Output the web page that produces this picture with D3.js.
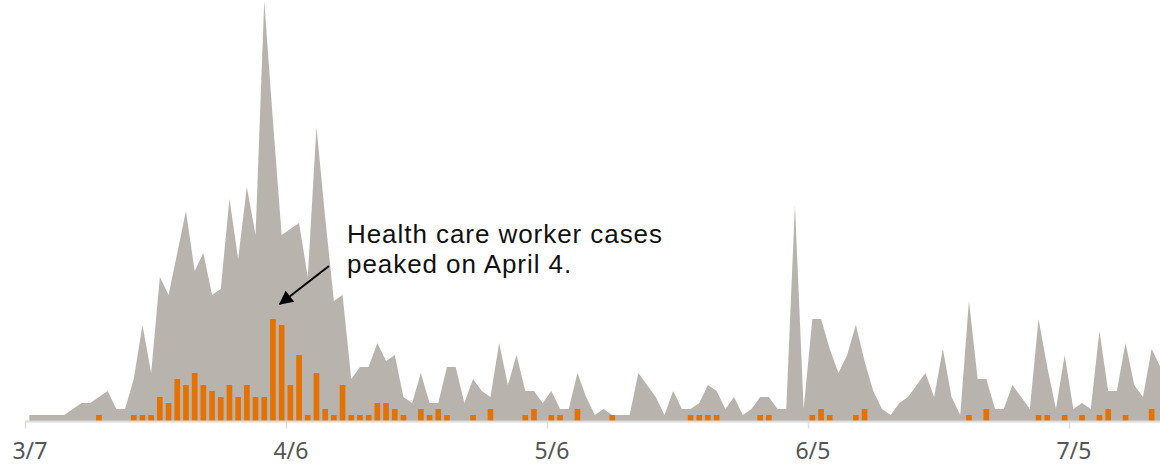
<!DOCTYPE html>
<html>
<head>
<meta charset="utf-8">
<script src="https://cdn.jsdelivr.net/npm/d3@7"></script>
<style>
  body { margin: 0; background: #fff; }
  svg { display: block; font-family: "Noto Sans", Roboto, sans-serif; }
</style>
</head>
<body>
<div class="container"></div>
<script>
const w = 1160;
const h = 466;

// daily counts, starting 3/7
const startDay = "2020-03-07";
const totalCases = [
  1, 1, 1, 1, 1, 2, 3, 3, 4, 5,
  2, 2, 7, 16, 8, 24, 21, 28, 35, 25,
  28, 21, 22, 37, 27, 39, 31, 70, 50, 31,
  32, 33, 24, 49, 34, 20, 21, 7, 9, 9,
  13, 10, 11, 4, 3, 8, 3, 3, 9, 9,
  3, 7, 5, 4, 13, 6, 11, 5, 5, 3,
  5, 2, 2, 8, 4, 1, 2, 1, 1, 1,
  8, 6, 4, 1, 5, 2, 2, 3, 6, 5,
  2, 4, 1, 2, 4, 4, 2, 2, 36, 2,
  17, 17, 12, 8, 11, 16, 10, 5, 2, 1,
  3, 4, 6, 8, 4, 12, 4, 1, 20, 7,
  7, 2, 2, 6, 4, 2, 17, 9, 2, 11,
  2, 3, 2, 15, 5, 5, 13, 6, 4, 12,
  9
];
const workerCases = [
  0, 0, 0, 0, 0, 0, 0, 0, 1, 0,
  0, 0, 1, 1, 1, 4, 3, 7, 6, 8,
  6, 5, 4, 6, 4, 6, 4, 4, 17, 16,
  6, 11, 1, 8, 2, 1, 6, 1, 1, 1,
  3, 3, 2, 1, 0, 2, 1, 2, 1, 0,
  0, 1, 0, 2, 0, 0, 0, 1, 2, 0,
  1, 1, 0, 2, 0, 0, 0, 1, 0, 0,
  0, 0, 0, 0, 0, 0, 1, 1, 1, 1,
  0, 0, 0, 0, 1, 1, 0, 0, 0, 0,
  1, 2, 1, 0, 0, 1, 2, 0, 0, 0,
  0, 0, 0, 0, 0, 0, 0, 0, 1, 0,
  2, 0, 0, 0, 0, 0, 1, 1, 0, 1,
  0, 1, 0, 1, 2, 0, 1, 0, 0, 2,
  0
];
const tickDays = ["2020-03-07", "2020-04-06", "2020-05-06", "2020-06-05", "2020-07-05"];
const tickLabels = ["3/7", "4/6", "5/6", "6/5", "7/5"];
const noteLines = ["Health care worker cases", "peaked on April 4."];

const parse = d3.utcParse("%Y-%m-%d");
const start = parse(startDay);
const data = totalCases.map((t, i) => ({
  date: d3.utcDay.offset(start, i),
  total: t,
  workers: workerCases[i]
}));

const x = d3.scaleUtc()
    .domain([parse(tickDays[0]), parse(tickDays[tickDays.length - 1])])
    .range([25, 1069]);
const step = x(d3.utcDay.offset(start, 1)) - x(start);
const barW = step * 0.65;

const y = d3.scaleLinear()
    .domain([0, 70])
    .range([421, 1]);

const svg = d3.select('.container').append('svg')
    .attr('width', w)
    .attr('height', h);

const area = d3.area()
    .x(d => x(d.date) + step / 2)
    .y0(y(0))
    .y1(d => y(d.total));

svg.append('path')
    .datum(data)
    .attr('fill', '#b8b3ad')
    .attr('d', area);

svg.append('g')
    .selectAll('rect')
    .data(data.filter(d => d.workers > 0))
    .enter().append('rect')
      .attr('x', d => x(d.date) + (step - barW) / 2)
      .attr('width', barW)
      .attr('y', d => y(d.workers))
      .attr('height', d => y(0) - y(d.workers))
      .attr('fill', '#e57200');

// axis
const xAxis = d3.axisBottom(x)
    .tickValues(tickDays.map(parse))
    .tickFormat((d, i) => tickLabels[i])
    .tickSize(7)
    .tickSizeOuter(0);

const axis = svg.append('g')
    .attr('transform', `translate(0, ${y(0) + 0.5})`)
    .call(xAxis);

axis.select('.domain').remove();
axis.insert('line', ':first-child')
    .attr('x1', x(start))
    .attr('x2', w)
    .attr('stroke', '#dcdcdc')
    .attr('stroke-width', 2);
axis.selectAll('.tick line')
    .attr('stroke', '#dcdcdc')
    .attr('stroke-width', 1.5);
axis.selectAll('.tick text')
    .attr('x', step / 2)
    .attr('y', 37)
    .attr('dy', 0)
    .attr('fill', '#555')
    .attr('font-size', 23)
    .attr('font-family', '"Noto Sans", sans-serif');

// annotation
const defs = svg.append('defs');
defs.append('marker')
    .attr('id', 'arrow')
    .attr('viewBox', '0 0 10 10')
    .attr('refX', 9)
    .attr('refY', 5)
    .attr('markerUnits', 'userSpaceOnUse')
    .attr('markerWidth', 15)
    .attr('markerHeight', 14)
    .attr('orient', 'auto')
  .append('path')
    .attr('d', 'M0,0L10,5L0,10z')
    .attr('fill', '#000');

const peak = data[d3.maxIndex(data, d => d.workers)];

svg.append('line')
    .attr('x1', 329)
    .attr('y1', 266)
    .attr('x2', x(peak.date) + step / 2 + 7)
    .attr('y2', y(peak.workers) - 15)
    .attr('stroke', '#000')
    .attr('stroke-width', 2)
    .attr('marker-end', 'url(#arrow)');

const note = svg.append('text')
    .attr('x', 347)
    .attr('y', 243)
    .attr('font-size', 26)
    .attr('font-family', '"Liberation Sans", Arial, sans-serif')
    .attr('fill', '#111');

note.selectAll('tspan')
    .data(noteLines)
    .enter().append('tspan')
      .attr('x', 347)
      .attr('dy', (d, i) => i ? 30 : 0)
      .text(d => d);

// widen the first line to ~315px like the original with a little tracking
const firstW = note.select('tspan').node().getComputedTextLength();
const extra = (315 - firstW) / (noteLines[0].length - 1);
if (firstW > 0 && extra > 0) note.attr('letter-spacing', Math.min(extra, 1.5));
</script>
</body>
</html>
